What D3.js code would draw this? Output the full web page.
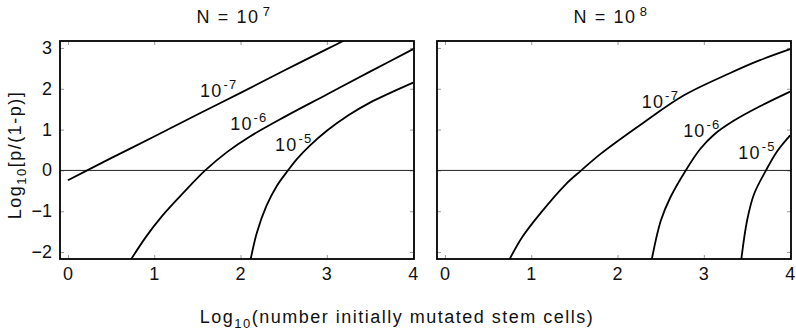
<!DOCTYPE html>
<html>
<head>
<meta charset="utf-8">
<script src="https://cdn.jsdelivr.net/npm/d3@7"></script>
<style>
  body { margin: 0; background: #fff; }
  svg { display: block; font-family: "Liberation Sans", Arial, sans-serif; }
</style>
</head>
<body>
<svg id="chart" width="796" height="334"></svg>
<script>
// valores: log10(células mutadas) x log10[p/(1-p)]
const xTicks = [0, 1, 2, 3, 4];
const yTicks = [-2, -1, 0, 1, 2, 3];
const expoentesN = ["7", "8"];
const expoentesMu = ["-7", "-6", "-5"];

// N = 10^7
const n7mu7 = [[0, -0.24], [0.5, 0.30], [1, 0.83], [1.5, 1.37], [2, 1.90], [2.5, 2.44], [3, 2.97], [3.3, 3.29]];
const n7mu6 = [[0.71, -2.25], [0.9, -1.64], [1.09, -1.12], [1.35, -0.52], [1.59, 0], [1.85, 0.46], [2.1, 0.82], [2.5, 1.30], [3, 1.86], [3.5, 2.42], [4, 2.97]];
const n7mu5 = [[2.11, -2.25], [2.19, -1.52], [2.30, -0.87], [2.42, -0.38], [2.55, 0], [2.65, 0.27], [2.80, 0.60], [3.0, 0.97], [3.25, 1.35], [3.5, 1.66], [4, 2.15]];

// N = 10^8
const n8mu7 = [[0.73, -2.25], [0.9, -1.62], [1.11, -1.04], [1.40, -0.34], [1.58, 0], [1.80, 0.40], [2.3, 1.17], [2.77, 1.84], [3.3, 2.38], [3.65, 2.70], [4, 2.97]];
const n8mu6 = [[2.39, -2.25], [2.50, -1.24], [2.61, -0.67], [2.79, 0], [2.96, 0.53], [3.12, 0.88], [3.35, 1.22], [3.65, 1.57], [4, 1.93]];
const n8mu5 = [[3.43, -2.25], [3.50, -1.24], [3.58, -0.59], [3.72, 0], [3.85, 0.47], [4, 0.86]];

// onde ficam os rótulos 10^mu (em unidades dos eixos)
const rotulosN7 = [[1.53, 1.79], [1.88, 1.0], [2.40, 0.47]];
const rotulosN8 = [[2.28, 1.54], [2.76, 0.81], [3.40, 0.27]];

const paineis = [
  { expoente: expoentesN[0], curvas: [n7mu7, n7mu6, n7mu5], rotulos: rotulosN7, left: 60 },
  { expoente: expoentesN[1], curvas: [n8mu7, n8mu6, n8mu5], rotulos: rotulosN8, left: 437 },
];

const W = 354;
const topo = 41;
const base = 259;
const fonte = 18;
const cor = "#111";

const svg = d3.select("#chart");

const y = d3.scaleLinear().domain([-2.17, 3.17]).range([base - topo, 0]);

paineis.forEach((p, i) => {
  const x = d3.scaleLinear().domain([-0.092, 4.01]).range([0, W]);
  const g = svg.append("g").attr("transform", `translate(${p.left},${topo})`);
  const H = base - topo;

  g.append("clipPath").attr("id", `clip${i}`)
    .append("rect").attr("width", W).attr("height", H);

  // ticks para dentro, nos quatro lados
  const corTick = "#999";
  g.append("g").call(d3.axisBottom(x).tickValues(xTicks).tickSize(-4).tickFormat(""))
    .attr("transform", `translate(0,${H})`)
    .call((s) => s.select(".domain").remove())
    .call((s) => s.selectAll("line").attr("stroke", corTick));
  g.append("g").call(d3.axisTop(x).tickValues(xTicks).tickSize(-4).tickFormat(""))
    .call((s) => s.select(".domain").remove())
    .call((s) => s.selectAll("line").attr("stroke", corTick));
  g.append("g").call(d3.axisLeft(y).tickValues(yTicks).tickSize(-4).tickFormat(""))
    .call((s) => s.select(".domain").remove())
    .call((s) => s.selectAll("line").attr("stroke", corTick));
  g.append("g").call(d3.axisRight(y).tickValues(yTicks).tickSize(-4).tickFormat(""))
    .attr("transform", `translate(${W},0)`)
    .call((s) => s.select(".domain").remove())
    .call((s) => s.selectAll("line").attr("stroke", corTick));

  // rótulos do eixo x
  g.selectAll("text.xt").data(xTicks).join("text")
    .attr("class", "xt")
    .attr("x", (d) => x(d))
    .attr("y", H + 21)
    .attr("text-anchor", "middle")
    .attr("font-size", fonte)
    .attr("fill", cor)
    .text((d) => d);

  if (i === 0) {
    g.selectAll("text.yt").data(yTicks).join("text")
      .attr("class", "yt")
      .attr("x", -8)
      .attr("y", (d) => y(d) + 6)
      .attr("text-anchor", "end")
      .attr("font-size", fonte)
      .attr("fill", cor)
      .text((d) => (d < 0 ? "\u2212" + Math.abs(d) : d));
  }

  // linha do zero
  g.append("line")
    .attr("x1", 0).attr("x2", W)
    .attr("y1", y(0)).attr("y2", y(0))
    .attr("stroke", "#222").attr("stroke-width", 1);

  const linha = d3.line()
    .x((d) => x(d[0]))
    .y((d) => y(d[1]))
    .curve(d3.curveCatmullRom.alpha(0.5));

  g.append("g").attr("clip-path", `url(#clip${i})`)
    .selectAll("path").data(p.curvas).join("path")
    .attr("d", linha)
    .attr("fill", "none")
    .attr("stroke", "#000")
    .attr("stroke-width", 1.8);

  g.append("rect")
    .attr("width", W).attr("height", H)
    .attr("fill", "none").attr("stroke", "#000").attr("stroke-width", 1.8);

  // 10^-7, 10^-6, 10^-5
  p.rotulos.forEach((r, k) => {
    const t = g.append("text")
      .attr("x", x(r[0]))
      .attr("y", y(r[1]))
      .attr("font-size", fonte)
      .attr("letter-spacing", 1.2)
      .attr("fill", cor);
    t.append("tspan").text("10");
    t.append("tspan").attr("dx", 1).attr("dy", -8).attr("font-size", 13).text(expoentesMu[k]);
  });

  // título
  const titulo = svg.append("text")
    .attr("x", p.left + W / 2 - 3)
    .attr("y", 23)
    .attr("text-anchor", "middle")
    .attr("font-size", fonte)
    .attr("letter-spacing", 1.6)
    .attr("fill", cor);
  titulo.append("tspan").text("N = 10");
  titulo.append("tspan").attr("dx", 3).attr("dy", -7).attr("font-size", 13).text(p.expoente);
});

// título do eixo y
const ty = svg.append("text")
  .attr("transform", `translate(21,155) rotate(-90)`)
  .attr("text-anchor", "middle")
  .attr("font-size", fonte)
  .attr("letter-spacing", 1.5)
  .attr("fill", cor);
ty.append("tspan").text("Log");
ty.append("tspan").attr("dy", 5).attr("font-size", 13).text("10");
ty.append("tspan").attr("dy", -5).text("[p/(1-p)]");

// título do eixo x
const tx = svg.append("text")
  .attr("x", 397)
  .attr("y", 323)
  .attr("text-anchor", "middle")
  .attr("font-size", fonte)
  .attr("letter-spacing", 1.5)
  .attr("fill", cor);
tx.append("tspan").text("Log");
tx.append("tspan").attr("dy", 5).attr("font-size", 13).text("10");
tx.append("tspan").attr("dy", -5).text("(number initially mutated stem cells)");
</script>
</body>
</html>
